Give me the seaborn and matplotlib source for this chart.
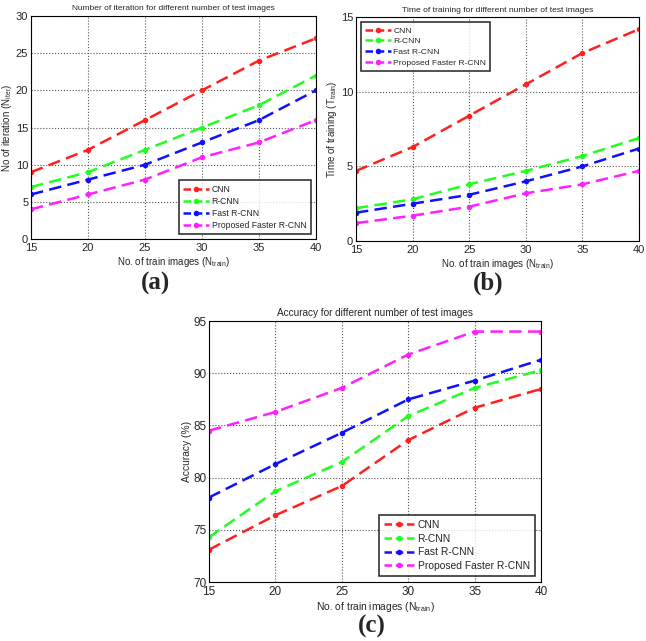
import matplotlib
matplotlib.use("Agg")
import matplotlib.pyplot as plt
import seaborn as sns
import pandas as pd

x_vals = [15, 20, 25, 30, 35, 40]
methods = ["CNN", "R-CNN", "Fast R-CNN", "Proposed Faster R-CNN"]

iter_cnn = [9, 12, 16, 20, 24, 27]
iter_rcnn = [7, 9, 12, 15, 18, 22]
iter_fast = [6, 8, 10, 13, 16, 20]
iter_prop = [4, 6, 8, 11, 13, 16]

time_cnn = [4.7, 6.3, 8.4, 10.5, 12.6, 14.2]
time_rcnn = [2.2, 2.8, 3.8, 4.7, 5.7, 6.9]
time_fast = [1.9, 2.5, 3.1, 4.0, 5.0, 6.2]
time_prop = [1.2, 1.7, 2.3, 3.2, 3.8, 4.7]

acc_cnn = [73.1, 76.4, 79.2, 83.6, 86.7, 88.5]
acc_rcnn = [74.3, 78.7, 81.5, 85.9, 88.6, 90.3]
acc_fast = [78.1, 81.3, 84.3, 87.5, 89.3, 91.3]
acc_prop = [84.5, 86.3, 88.6, 91.8, 94.0, 94.0]

colors = ["#ff2020", "#20ff20", "#1010ff", "#ff20ff"]

sns.set_style("whitegrid")
plt.rcParams["font.family"] = ["Liberation Sans", "DejaVu Sans"]
plt.rcParams["mathtext.fontset"] = "custom"
plt.rcParams["mathtext.rm"] = "Liberation Sans"
plt.rcParams["mathtext.it"] = "Liberation Sans"


def make_df(series):
    rows = []
    for m, vals in zip(methods, series):
        for xv, yv in zip(x_vals, vals):
            rows.append({"x": xv, "y": yv, "method": m})
    return pd.DataFrame(rows)


fig = plt.figure(figsize=(6.46, 6.41), dpi=100)

panels = [
    dict(rect=[0.048, 0.627, 0.441, 0.348], data=[iter_cnn, iter_rcnn, iter_fast, iter_prop],
         title="Number of iteration for different number of test images",
         ylabel=r"No of iteration (N$_{iter}$)", ylim=(0, 30), yticks=[0, 5, 10, 15, 20, 25, 30],
         loc="lower right", tag="(a)", tagpos=(0.24, 0.558), fs=6.2, tfs=6.05, lfs=7, tick=8),
    dict(rect=[0.551, 0.624, 0.438, 0.349], data=[time_cnn, time_rcnn, time_fast, time_prop],
         title="Time of training for different number of test images",
         ylabel=r"Time of training (T$_{train}$)", ylim=(0, 15), yticks=[0, 5, 10, 15],
         loc="upper left", tag="(b)", tagpos=(0.755, 0.558), fs=6.1, tfs=6.1, lfs=7, tick=8),
    dict(rect=[0.3235, 0.092, 0.514, 0.407], data=[acc_cnn, acc_rcnn, acc_fast, acc_prop],
         title="Accuracy for different number of test images",
         ylabel="Accuracy (%)", ylim=(70, 95), yticks=[70, 75, 80, 85, 90, 95],
         loc="lower right", tag="(c)", tagpos=(0.576, 0.022), fs=7.4, tfs=7.2, lfs=7.4, tick=8.5),
]

for p in panels:
    ax = fig.add_axes(p["rect"])
    df = make_df(p["data"])
    sns.lineplot(data=df, x="x", y="y", hue="method", palette=colors, ax=ax,
                 marker="o", markersize=4, markeredgewidth=0, linewidth=1.8,
                 hue_order=methods)
    for line in ax.lines:
        line.set_dashes((5, 2.5))
    ax.set_xlim(15, 40)
    ax.set_ylim(*p["ylim"])
    ax.set_xticks(x_vals)
    ax.set_yticks(p["yticks"])
    ax.grid(True, linestyle=":", color="#555555", linewidth=0.8)
    for s in ax.spines.values():
        s.set_color("black")
        s.set_linewidth(0.8)
    ax.tick_params(axis="both", labelsize=p["tick"], direction="in", length=3, color="black")
    ax.tick_params(axis="x", pad=3)
    ax.tick_params(axis="y", pad=2)
    ax.set_title(p["title"], fontsize=p["tfs"], pad=4)
    ax.set_xlabel(r"No. of train images (N$_{train}$)", fontsize=p["lfs"], labelpad=1)
    ax.set_ylabel(p["ylabel"], fontsize=p["lfs"], labelpad=1)
    leg = ax.legend(loc=p["loc"], fontsize=p["fs"], frameon=True, fancybox=False,
                    edgecolor="black", handlelength=3, handletextpad=0.3,
                    borderpad=0.5, labelspacing=0.35, borderaxespad=0.6)
    leg.get_frame().set_linewidth(1.2)
    for h in leg.get_lines():
        h.set_dashes((3, 1.5))
    fig.text(p["tagpos"][0], p["tagpos"][1], p["tag"], fontsize=18, fontweight="bold",
             family="Liberation Serif", ha="center", va="center")

fig.savefig("out.png", dpi=100)
